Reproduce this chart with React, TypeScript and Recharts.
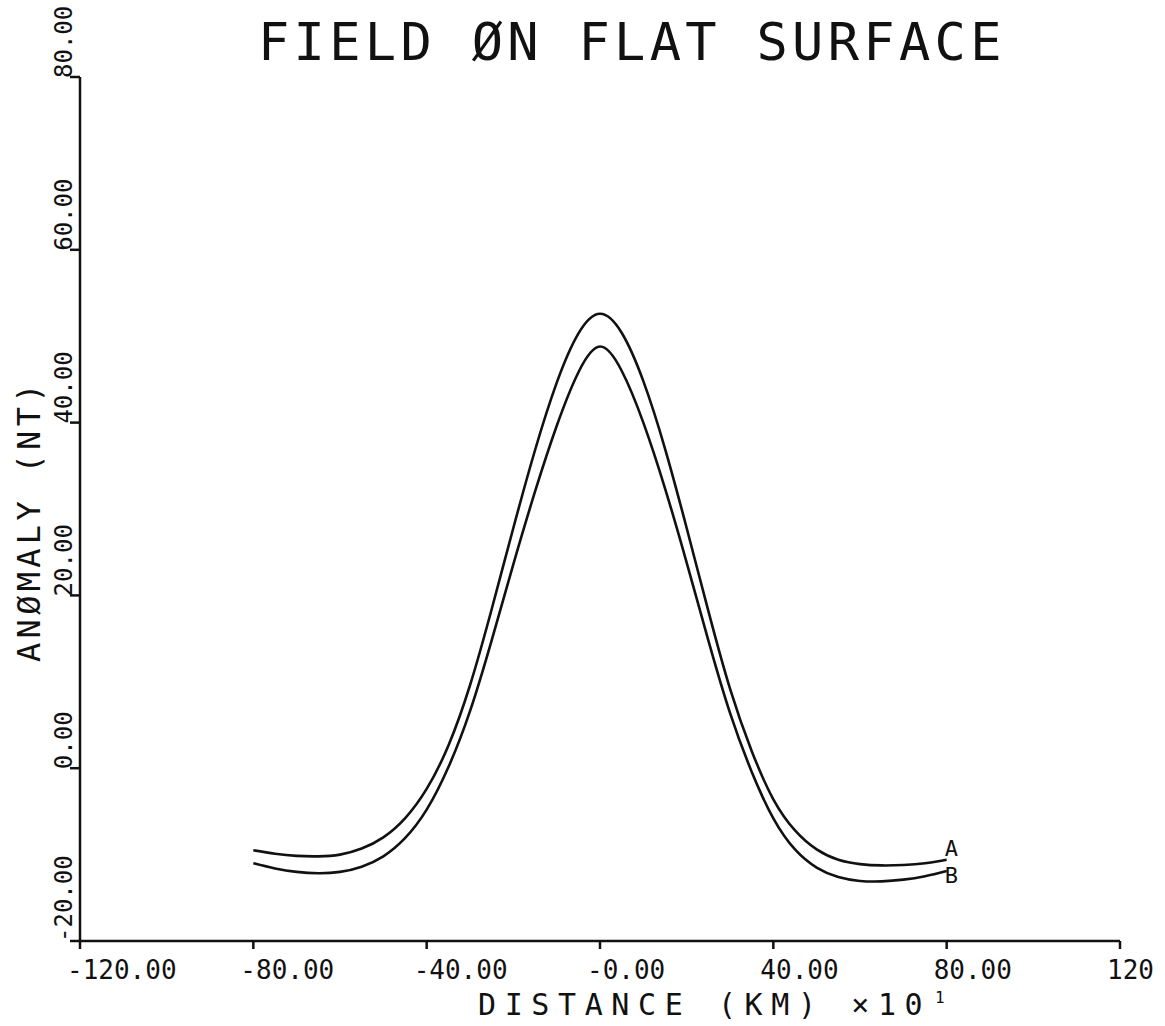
import { LineChart, Line, XAxis, YAxis } from 'recharts';

// distance in units of 10 km
const distance = [
  -80, -75, -70, -65, -60, -55, -50, -45, -40, -35, -30, -25, -20, -15, -10, -5, 0,
  5, 10, 15, 20, 25, 30, 35, 40, 45, 50, 55, 60, 65, 70, 75, 80,
];
const curveA = [
  -9.5, -9.9, -10.15, -10.2, -10.0, -9.3, -8.0, -5.8, -2.4, 2.6, 9.6, 18.4, 27.8, 36.8, 44.6, 50.3, 52.6,
  50.4, 44.8, 37.0, 27.8, 18.2, 9.2, 2.0, -3.6, -7.2, -9.4, -10.6, -11.1, -11.25, -11.2, -11.0, -10.6,
];
const curveB = [
  -11.0, -11.6, -12.0, -12.15, -12.0, -11.4, -10.2, -8.1, -4.8, 0.1, 6.6, 14.8, 23.6, 32.0, 39.6, 45.8, 48.8,
  46.0, 40.0, 32.4, 23.8, 14.8, 6.4, -0.4, -5.8, -9.4, -11.5, -12.6, -13.05, -13.1, -12.9, -12.5, -11.9,
];

const xTicks = [-120, -80, -40, 0, 40, 80, 120];
const xTickLabels = ['-120.00', '-80.00', '-40.00', '-0.00', '40.00', '80.00', '120'];
const yTicks = [-20, 0, 20, 40, 60, 80];
const yTickLabels = ['-20.00', '0.00', '20.00', '40.00', '60.00', '80.00'];

const title = 'FIELD ØN FLAT SURFACE';
const xTitle = 'DISTANCE (KM) ×10';
const xTitleExp = '1';
const yTitle = 'ANØMALY (NT)';

const W = 1165;
const H = 1026;
const FONT = '"DejaVu Sans Mono", monospace';

const data = distance.map((d, i) => ({ d, A: curveA[i], B: curveB[i] }));

function XTick(props: any) {
  const { x, y, payload } = props;
  const label = xTickLabels[xTicks.indexOf(payload.value)];
  return (
    <text x={x - 13} y={y + 28} fontSize={26} fontFamily={FONT} fill="#111" textAnchor="start">
      {label}
    </text>
  );
}

function YTick(props: any) {
  const { x, y, payload } = props;
  const label = yTickLabels[yTicks.indexOf(payload.value)];
  const bx = x + 4;
  const by = y + 1;
  return (
    <text x={bx} y={by} fontSize={24} fontFamily={FONT} fill="#111" textAnchor="start"
      transform={`rotate(-90, ${bx}, ${by})`}>
      {label}
    </text>
  );
}

const endLabel = (name: string, dy: number) => (p: any) => {
  if (p.index !== distance.length - 1) return null;
  return (
    <text x={p.x - 2} y={p.y + dy} fontSize={22} fontFamily={FONT} fill="#111">{name}</text>
  );
};

export default function App() {
  return (
    <div style={{ position: 'absolute', left: 0, top: 0, width: W, height: H, background: '#fff' }}>
      <LineChart width={W} height={H} data={data} margin={{ top: 77, right: 45, bottom: 0, left: 0 }}>
        <XAxis dataKey="d" type="number" domain={[-120, 120]} ticks={xTicks} height={85}
          stroke="#111" strokeWidth={2.5} tickSize={8} tick={<XTick />} interval={0} />
        <YAxis type="number" domain={[-20, 80]} ticks={yTicks} width={80}
          stroke="#111" strokeWidth={2.5} tickSize={10} tick={<YTick />} interval={0} />
        <Line dataKey="A" type="natural" stroke="#111" strokeWidth={2.6} dot={false}
          isAnimationActive={false} label={endLabel('A', -4)} />
        <Line dataKey="B" type="natural" stroke="#111" strokeWidth={2.6} dot={false}
          isAnimationActive={false} label={endLabel('B', 12)} />
      </LineChart>
      <svg width={W} height={H} style={{ position: 'absolute', left: 0, top: 0, pointerEvents: 'none' }}>
        <text x={258} y={60} fontSize={52} letterSpacing={4.3} fontFamily={FONT} fill="#111">{title}</text>
        <text x={478} y={1015} fontSize={30} letterSpacing={8.6} fontFamily={FONT} fill="#111">
          {xTitle}
        </text>
        <text x={935} y={1003} fontSize={16} fontFamily={FONT} fill="#111">{xTitleExp}</text>
        <text x={40} y={662} fontSize={32} letterSpacing={4.3} fontFamily={FONT} fill="#111"
          transform="rotate(-90, 40, 662)">{yTitle}</text>
      </svg>
    </div>
  );
}
